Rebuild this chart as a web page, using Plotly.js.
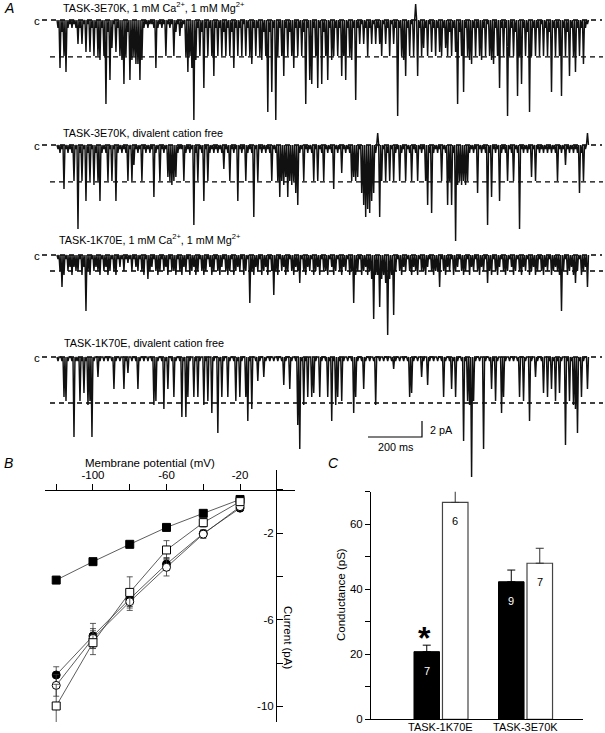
<!DOCTYPE html>
<html>
<head>
<meta charset="utf-8">
<script src="https://cdn.plot.ly/plotly-3.0.1.min.js"></script>
<style>html,body{margin:0;padding:0;background:#fff}#chart{width:605px;height:733px}</style>
</head>
<body>
<div id="chart"></div>
<script>
// ---------------- DATA ----------------
// Panel A: single-channel records. One character per ~7.4 ms bin: downward current
// excursion from the closed level in units of 0.5 pA (base-36 digits);
// uppercase letters = upward excursion (A=1, B=2, ...).
const traceLabels = [
  "TASK-3E70K, 1 mM Ca<sup>2+</sup>, 1 mM Mg<sup>2+</sup>",
  "TASK-3E70K, divalent cation free",
  "TASK-1K70E, 1 mM Ca<sup>2+</sup>, 1 mM Mg<sup>2+</sup>",
  "TASK-1K70E, divalent cation free"
];
const trace1 = "2c39d21212" + "6261818292" + "9a29l3f718" + "29ag93fa9b" + "bfa212112c" +
  "2121912193" + "14219d9cpa" + "293h2929e2" + "92939293c2" + "9291929b29" +
  "29a39n3i2p" + "929e2939c2" + "9293l2fg29" + "h2g39f2a92" + "92e9f29a2k" +
  "2616292616" + "2691629162" + "o29ae2919D" + "e297291829" + "2892793928" +
  "l39i29ab29" + "29a2919ab2" + "9h292o9293" + "j9g293n929" + "2919293i29" +
  "29j293e29d" + "292b21";
const trace2 = "121b121291" + "l291e291a2" + "9e2129191e" + "2121291951" + "21912121d2" +
  "1912189a98" + "21192121k2" + "912e192121" + "2126129121" + "e1219212i1" +
  "9121212912" + "9d9a8d9a9c" + "f219121291" + "91291212b1" + "2171212989" +
  "81cfighec2" + "Ci91929192" + "1921912912" + "91219f2h21" + "21912f9f2o" +
  "a9a9a92121" + "c1212k2d12" + "1e21291291" + "2l12121819" + "1212121212" +
  "9121512121" + "2c291C";
const trace3 = "1485143534" + "4153e45143" + "4514354145" + "1314121413" + "4145164314" +
  "5414351445" + "1453415435" + "4145413541" + "4531454154" + "341541c453" +
  "41543514a4" + "5143541453" + "4714534154" + "3514451354" + "14534154c5" +
  "41543546g5" + "5d657k65f4" + "1453414534" + "5144531454" + "4814534154" +
  "3145415341" + "4534174514" + "5314541354" + "1453415435" + "4145341543" +
  "45e4154357" + "415438";
const trace4 = "101ab101k1" + "1b191cbk10" + "5101010181" + "0108140101" + "81010101cb" +
  "101d1801a1" + "01f1fa10a1" + "a10c1b0e10" + "j1a10a101b" + "1a10ag1d01" +
  "6105101010" + "1017108101" + "hn1c1a0a91" + "0a101a1g1c" + "a1b10101ea" +
  "101810101c" + "0101010131" + "010101a910" + "1051071010" + "101a10181a" +
  "101l1bcub1" + "010n10181b" + "10ea101010" + "1a0b10g105" + "10190a181b" +
  "1910m1b1cd" + "j1a108";
const traceCodes = [trace1, trace2, trace3, trace4];
const openAmpPA = [4.6, 4.6, 2.0, 5.75];   // unitary open level (pA)
const binMs = 7.4;
const unitPA = 0.5;
const scaleBarMs = 200, scaleBarPA = 2;

// Panel B: I-V relation
const ivVoltage = [-120, -100, -80, -60, -40, -20];
const ivFilledSquare = [-4.17, -3.32, -2.52, -1.74, -1.09, -0.45];
const ivFilledSquareErr = [0.1, 0.1, 0.1, 0.1, 0.1, 0.08];
const ivOpenSquare = [-9.98, -7.06, -4.74, -2.78, -1.52, -0.55];
const ivOpenSquareErr = [1.0, 0.55, 0.72, 0.43, 0.2, 0.12];
const ivFilledCircle = [-8.55, -6.75, -5.04, -3.43, -2.02, -0.85];
const ivFilledCircleErr = [0.38, 0.58, 0.35, 0.3, 0.15, 0.1];
const ivOpenCircle = [-9.03, -6.86, -5.17, -3.58, -2.05, -0.78];
const ivOpenCircleErr = [0.5, 0.45, 0.4, 0.4, 0.2, 0.1];
const ivXTicks = [-100, -60, -20];
const ivXTickText = ["-100", "-60", "-20"];
const ivYTicks = [-2, -6, -10];
const ivYTickText = ["-2", "-6", "-10"];

// Panel C: conductance
const condCategories = ["TASK-1K70E", "TASK-3E70K"];
const condCa = [20.8, 42.3];
const condCaErr = [2.0, 3.6];
const condCaN = ["7", "9"];
const condFree = [66.7, 48.0];
const condFreeErr = [4.7, 4.6];
const condFreeN = ["6", "7"];
const condYTicks = [0, 20, 40, 60];

// ---------------- LAYOUT HELPERS ----------------
const W = 605, H = 733;
const px = x => x / W, py = y => 1 - y / H;
// panel A pixel mapping
const A_T0_PX = 57, A_PX_PER_MS = 0.27, A_PX_PER_PA = 8, A_REF_PX = 20, A_BOTTOM_PX = 490;
const xA = p => (p - A_T0_PX) / A_PX_PER_MS;
const yA = p => (A_REF_PX - p) / A_PX_PER_PA;
const baselinePx = [20, 145, 255, 357];
const labelPos = [[61, 7], [61, 133], [57, 239], [62, 343]];

const FONT = "Liberation Sans, Arial, Helvetica, sans-serif";
const data = [];
const annotations = [];

function charVal(ch) {
  if (ch >= "A" && ch <= "Z") return -(ch.charCodeAt(0) - 64);
  return parseInt(ch, 36);
}

traceCodes.forEach((code, k) => {
  const base = yA(baselinePx[k]);
  data.push({x: [xA(42), xA(602)], y: [base, base], mode: "lines", xaxis: "x", yaxis: "y",
    line: {color: "#000", width: 1.3, dash: "5px,4px"}, hoverinfo: "skip"});
  const op = base - openAmpPA[k];
  data.push({x: [xA(50), xA(603)], y: [op, op], mode: "lines", xaxis: "x", yaxis: "y",
    line: {color: "#000", width: 1.3, dash: "5px,4px"}, hoverinfo: "skip"});
  const xs = [], ys = [];
  for (let i = 0; i < code.length; i++) {
    const v = charVal(code[i]);
    const t = i * binMs;
    xs.push(t, t + binMs / 2);
    ys.push(base, base - v * unitPA);
  }
  xs.push(code.length * binMs); ys.push(base);
  data.push({x: xs, y: ys, mode: "lines", xaxis: "x", yaxis: "y",
    line: {color: "#111", width: 1.45}, hoverinfo: "skip"});
  annotations.push({xref: "paper", yref: "paper", x: px(labelPos[k][0]), y: py(labelPos[k][1]),
    xanchor: "left", yanchor: "middle", showarrow: false, text: traceLabels[k],
    font: {size: 10.8, family: FONT}});
  annotations.push({xref: "paper", yref: "paper", x: px(37), y: py(baselinePx[k] + 1),
    xanchor: "center", yanchor: "middle", showarrow: false, text: "c",
    font: {size: 11.5, family: FONT}});
});

// scale bar
const sbT = xA(422), sbY = yA(437);
data.push({x: [sbT - scaleBarMs, sbT, sbT], y: [sbY, sbY, sbY + scaleBarPA], mode: "lines",
  xaxis: "x", yaxis: "y", line: {color: "#000", width: 1.2}, hoverinfo: "skip"});
annotations.push({xref: "paper", yref: "paper", x: px(428), y: py(430), xanchor: "left", yanchor: "middle",
  showarrow: false, text: scaleBarPA + " pA", font: {size: 10.8, family: FONT}});
annotations.push({xref: "paper", yref: "paper", x: px(396), y: py(447), xanchor: "center", yanchor: "middle",
  showarrow: false, text: scaleBarMs + " ms", font: {size: 10.8, family: FONT}});

// panel letters
[["A", 9, 8], ["B", 8, 463], ["C", 333, 463]].forEach(([t, x, y]) => {
  annotations.push({xref: "paper", yref: "paper", x: px(x), y: py(y), xanchor: "center", yanchor: "middle",
    showarrow: false, text: "<i>" + t + "</i>", font: {size: 14, family: FONT}});
});

// Panel B traces
function ivSeries(yv, err, symbol, fill) {
  return {x: ivVoltage, y: yv, xaxis: "x2", yaxis: "y2", mode: "lines+markers", hoverinfo: "skip",
    line: {color: "#333", width: 0.8},
    marker: {symbol: symbol, size: 8, color: fill, line: {color: "#000", width: 1}},
    error_y: {type: "data", array: err, visible: true, color: "#333", thickness: 0.8, width: 3}};
}
data.push(ivSeries(ivFilledSquare, ivFilledSquareErr, "square", "#000"));
data.push(ivSeries(ivFilledCircle, ivFilledCircleErr, "circle", "#000"));
data.push(ivSeries(ivOpenCircle, ivOpenCircleErr, "circle", "#fff"));
data.push(ivSeries(ivOpenSquare, ivOpenSquareErr, "square", "#fff"));

annotations.push({xref: "paper", yref: "paper", x: px(150), y: py(463), xanchor: "center", yanchor: "middle",
  showarrow: false, text: "Membrane potential (mV)", font: {size: 11.5, family: FONT}});
annotations.push({xref: "paper", yref: "paper", x: px(288), y: py(637), xanchor: "center", yanchor: "middle",
  showarrow: false, textangle: 90, text: "Current (pA)", font: {size: 11.5, family: FONT}});

// Panel C traces
data.push({type: "bar", x: condCategories, y: condCa, xaxis: "x3", yaxis: "y3", hoverinfo: "skip",
  marker: {color: "#000", line: {color: "#000", width: 1}},
  error_y: {type: "data", symmetric: false, array: condCaErr, arrayminus: [0, 0], color: "#000", thickness: 1, width: 4}});
data.push({type: "bar", x: condCategories, y: condFree, xaxis: "x3", yaxis: "y3", hoverinfo: "skip",
  marker: {color: "#fff", line: {color: "#444", width: 1.2}},
  error_y: {type: "data", symmetric: false, array: condFreeErr, arrayminus: [0, 0], color: "#333", thickness: 1, width: 4}});

const BAR_SHIFT = 14.25;
condCategories.forEach((c, i) => {
  annotations.push({xref: "x3", yref: "y3", x: c, y: condCa[i], xshift: -BAR_SHIFT, yshift: -19,
    showarrow: false, text: condCaN[i], font: {size: 11, color: "#fff", family: FONT}});
  annotations.push({xref: "x3", yref: "y3", x: c, y: condFree[i], xshift: BAR_SHIFT, yshift: -19,
    showarrow: false, text: condFreeN[i], font: {size: 11, color: "#000", family: FONT}});
  annotations.push({xref: "x3", yref: "paper", x: c, y: py(726.5), yanchor: "middle",
    showarrow: false, text: c, font: {size: 11, family: FONT}});
});
annotations.push({xref: "x3", yref: "y3", x: condCategories[0], y: condCa[0] + condCaErr[0], xshift: -16, yshift: 7,
  showarrow: false, text: "<b>*</b>", font: {size: 32, color: "#000", family: FONT}});
annotations.push({xref: "paper", yref: "paper", x: px(341), y: py(595), xanchor: "center", yanchor: "middle",
  showarrow: false, textangle: -90, text: "Conductance (pS)", font: {size: 11.5, family: FONT}});

const layout = {
  width: W, height: H, margin: {l: 0, r: 0, t: 0, b: 0}, showlegend: false,
  paper_bgcolor: "#fff", plot_bgcolor: "rgba(0,0,0,0)",
  font: {family: FONT, size: 11, color: "#000"},
  barmode: "group", bargap: 0.326, bargroupgap: 0.104,
  xaxis: {domain: [0, 1], range: [xA(0), xA(W)], visible: false, fixedrange: true},
  yaxis: {domain: [py(A_BOTTOM_PX), 1], range: [yA(A_BOTTOM_PX), yA(0)], visible: false, fixedrange: true},
  xaxis2: {domain: [px(45), px(295)], range: [-126.1, 9.9], anchor: "free", position: py(489.7), side: "top",
    showline: true, linecolor: "#000", linewidth: 1, ticks: "outside", ticklen: 6, tickcolor: "#000",
    tickvals: ivXTicks, ticktext: ivXTickText, showgrid: false, zeroline: false, tickfont: {size: 11.5},
    minor: {tick0: -120, dtick: 20, ticks: "outside", ticklen: 6, tickcolor: "#000", showgrid: false}},
  yaxis2: {domain: [py(722), py(470)], range: [-10.72, 0.91], anchor: "free", position: px(276), side: "left",
    showline: true, linecolor: "#000", linewidth: 1, ticks: "inside", ticklen: 6, tickcolor: "#000",
    tickvals: ivYTicks, ticktext: ivYTickText, showgrid: false, zeroline: false, tickfont: {size: 11.5},
    minor: {tick0: 0, dtick: 2, ticks: "inside", ticklen: 6, tickcolor: "#000", showgrid: false}},
  xaxis3: {domain: [px(371), px(583)], type: "category", range: [-0.828, 1.68], anchor: "y3",
    showline: true, linecolor: "#000", linewidth: 1, ticks: "", showgrid: false, zeroline: false,
    showticklabels: false},
  yaxis3: {domain: [py(719.3), py(491.7)], range: [0, 70], anchor: "x3",
    showline: true, linecolor: "#000", linewidth: 1, ticks: "outside", ticklen: 5, tickcolor: "#000",
    tickvals: condYTicks, showgrid: false, zeroline: false, tickfont: {size: 11.5},
    minor: {tick0: 0, dtick: 10, ticks: "outside", ticklen: 5, tickcolor: "#000", showgrid: false}},
  annotations: annotations
};

Plotly.newPlot("chart", data, layout, {staticPlot: true, displayModeBar: false});
</script>
</body>
</html>
